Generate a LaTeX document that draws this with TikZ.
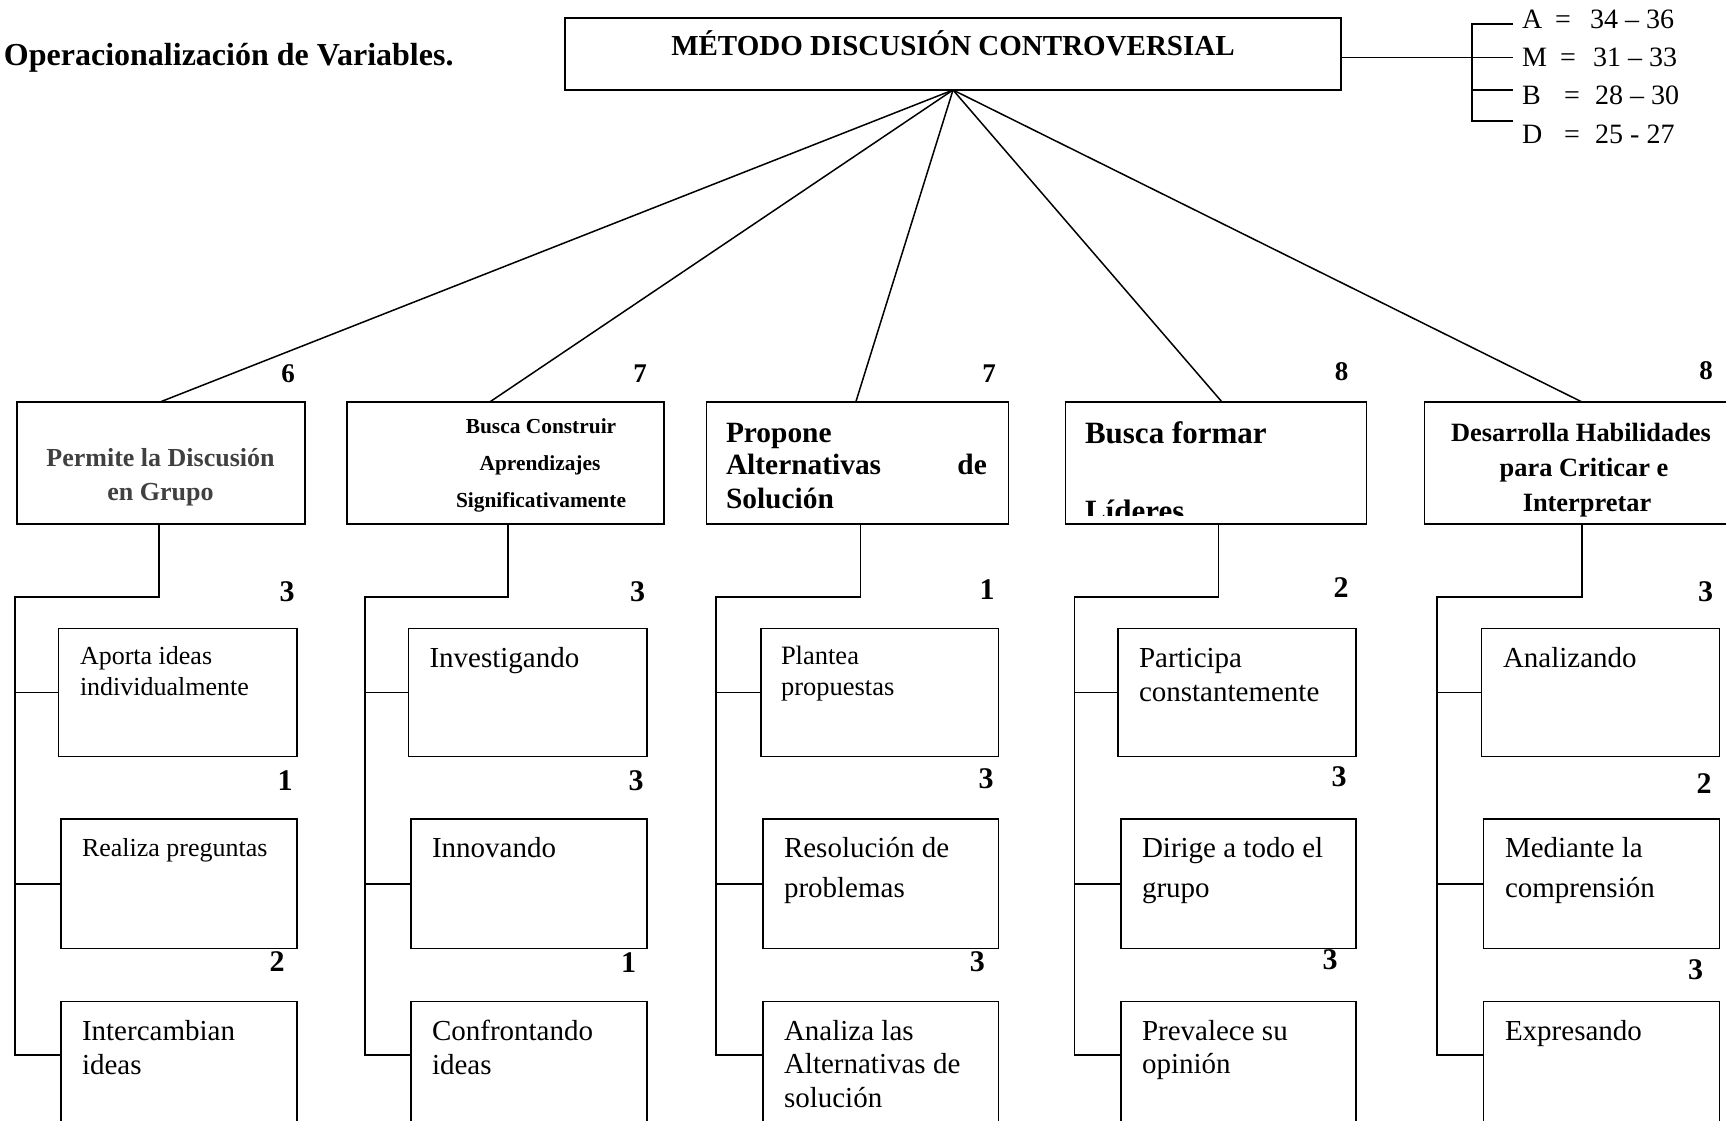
\documentclass[tikz,border=0pt]{standalone}
\usepackage{fontspec}
\setmainfont{Liberation Serif}
\newcommand\fsz[1]{\fontsize{#1}{#1}\selectfont}
\definecolor{grtxt}{HTML}{404040}
\begin{document}
\begin{tikzpicture}[x=1pt,y=-1pt,
  box/.style={draw, line width=1.6pt, rectangle, inner sep=0pt, outer sep=0pt},
  ln/.style={line width=1.5pt},
  tl/.style={inner sep=0pt, outer sep=0pt, anchor=base west},
  tc/.style={inner sep=0pt, outer sep=0pt, anchor=base},
  nA/.style={inner sep=0pt, font=\bfseries\fsz{27}},
  nB/.style={inner sep=0pt, font=\bfseries\fsz{30}},
  lab/.style={inner sep=0pt, font=\fsz{28}}]
\useasboundingbox (0,0) rectangle (1726,1120);

% title
\node[tl, font=\bfseries\fsz{32}] (title) at (4,65) {Operacionalización de Variables.};

% top box
\node[box, minimum width=776pt, minimum height=72pt] (top) at (953,54) {};
\node[tc, font=\bfseries\fsz{29}] (toptxt) at (953,55) {MÉTODO DISCUSIÓN CONTROVERSIAL};

% scale bracket
\coordinate (brm) at (1472,57.7);
\coordinate (bra) at (1472,24);
\coordinate (brd) at (1472,121);
\coordinate (tka) at (1513,24);
\coordinate (tkm) at (1513,57.7);
\coordinate (tkb) at (1513,90);
\coordinate (tkd) at (1513,121);
\draw[ln] (top.east |- brm) -- (brm);
\draw[ln] (tka) -- (bra) -- (brd) -- (tkd);
\draw[ln] (brm) -- (tkm);
\draw[ln] (bra |- tkb) -- (tkb);
\node[lab, anchor=base west] (lA) at (1522,28) {A};
\node[lab, anchor=base] (eA) at (1563,28) {=};
\node[lab, anchor=base west] (vA) at (1590,28) {34 – 36};
\node[lab, anchor=base west] (lM) at (1522,66) {M};
\node[lab, anchor=base] (eM) at (1568,66) {=};
\node[lab, anchor=base west] (vM) at (1593,66) {31 – 33};
\node[lab, anchor=base west] (lB) at (1522,104) {B};
\node[lab, anchor=base] (eB) at (1572,104) {=};
\node[lab, anchor=base west] (vB) at (1595,104) {28 – 30};
\node[lab, anchor=base west] (lD) at (1522,143) {D};
\node[lab, anchor=base] (eD) at (1572,143) {=};
\node[lab, anchor=base west] (vD) at (1595,143) {25 - 27};

% level 2 boxes
\node[box, minimum width=288pt, minimum height=122pt] (b1) at (161,463) {};
\node[box, minimum width=317pt, minimum height=122pt] (b2) at (505.5,463) {};
\node[box, minimum width=302pt, minimum height=122pt] (b3) at (857.5,463) {};
\node[box, minimum width=301pt, minimum height=122pt] (b4) at (1216,463) {};
\node[box, minimum width=315pt, minimum height=122pt] (b5) at (1582,463) {};

% fan connectors
\coordinate (f1) at (160,402);
\coordinate (f2) at (489.7,402);
\coordinate (f3) at (855.8,402);
\coordinate (f4) at (1222,402);
\coordinate (f5) at (1582,402);
\foreach \i in {1,...,5} \draw[ln] (top.south) -- (f\i);

% level 2 numbers
\node[nA, anchor=base] (m1) at (288,382) {6};
\node[nA, anchor=base] (m2) at (640,382) {7};
\node[nA, anchor=base] (m3) at (989,382) {7};
\node[nA, anchor=base] (m4) at (1341.5,380) {8};
\node[nA, anchor=base] (m5) at (1706,379) {8};

% level 2 texts
\node[tc, font=\bfseries\fsz{26}, text=grtxt] (t1a) at (160.5,466) {Permite la Discusión};
\node[tc, font=\bfseries\fsz{26}, text=grtxt] (t1b) at (160.5,500) {en Grupo};
\node[tc, font=\bfseries\fsz{21.4}] (t2a) at (541,433) {Busca Construir};
\node[tc, font=\bfseries\fsz{21.4}] (t2b) at (540,470) {Aprendizajes};
\node[tc, font=\bfseries\fsz{21.4}] (t2c) at (541,507) {Significativamente};
\node[tl, font=\bfseries\fsz{29.4}] (t3a) at (726,442) {Propone};
\node[tl, font=\bfseries\fsz{29.4}] (t3b) at (726,474) {Alternativas};
\node[inner sep=0pt, anchor=base east, font=\bfseries\fsz{29.4}] (t3c) at (987,474) {de};
\node[tl, font=\bfseries\fsz{29.4}] (t3d) at (726,508) {Solución};
\node[tl, font=\bfseries\fsz{31}] (t4a) at (1085,443) {Busca formar};
\begin{scope}
\clip (1070,480) rectangle (1360,515);
\node[tl, font=\bfseries\fsz{31}] (t4b) at (1085,521) {Líderes};
\end{scope}
\node[tc, font=\bfseries\fsz{26.4}] (t5a) at (1581,441) {Desarrolla Habilidades};
\node[tc, font=\bfseries\fsz{26.4}] (t5b) at (1584,476) {para Criticar e};
\node[tc, font=\bfseries\fsz{26.4}] (t5c) at (1587,511) {Interpretar};

% level 3 boxes
\node[box, minimum width=238.5pt, minimum height=128pt] (n1a) at (177.75,692.6) {};
\node[box, minimum width=236pt, minimum height=129.5pt] (n1b) at (179,883.75) {};
\node[box, minimum width=236pt, minimum height=129pt] (n1c) at (179,1066) {};
\node[box, minimum width=238.5pt, minimum height=128pt] (n2a) at (527.75,692.6) {};
\node[box, minimum width=236.3pt, minimum height=129.5pt] (n2b) at (528.85,883.75) {};
\node[box, minimum width=236.3pt, minimum height=129pt] (n2c) at (528.85,1066) {};
\node[box, minimum width=237.9pt, minimum height=128pt] (n3a) at (879.65,692.6) {};
\node[box, minimum width=235.9pt, minimum height=129.5pt] (n3b) at (880.65,883.75) {};
\node[box, minimum width=235.9pt, minimum height=129pt] (n3c) at (880.65,1066) {};
\node[box, minimum width=238pt, minimum height=128pt] (n4a) at (1237,692.6) {};
\node[box, minimum width=235.2pt, minimum height=129.5pt] (n4b) at (1238.4,883.75) {};
\node[box, minimum width=235.2pt, minimum height=129pt] (n4c) at (1238.4,1066) {};
\node[box, minimum width=237.9pt, minimum height=128pt] (n5a) at (1600.45,692.6) {};
\node[box, minimum width=235.9pt, minimum height=129.5pt] (n5b) at (1601.45,883.75) {};
\node[box, minimum width=235.9pt, minimum height=129pt] (n5c) at (1601.45,1066) {};

% level 2 -> level 3 connectors
\coordinate (v1) at (159,597);   \coordinate (h1) at (15,597);   \coordinate (e1) at (15,1055);
\coordinate (v2) at (508,597);   \coordinate (h2) at (365,597);  \coordinate (e2) at (365,1055);
\coordinate (v3) at (860.5,597); \coordinate (h3) at (716,597);  \coordinate (e3) at (716,1055);
\coordinate (v4) at (1218.6,597);\coordinate (h4) at (1074.5,597);\coordinate (e4) at (1074.5,1055);
\coordinate (v5) at (1582,597);  \coordinate (h5) at (1437,597); \coordinate (e5) at (1437,1055);
\foreach \i in {1,...,5} {
  \draw[ln] (b\i.south -| v\i) -- (v\i) -- (h\i) -- (e\i) -- (n\i c.west |- e\i);
  \draw[ln] (h\i |- n\i a.west) -- (n\i a.west);
  \draw[ln] (h\i |- n\i b.west) -- (n\i b.west);
}

% level 3 numbers
\node[nB] (k1a) at (287,592) {3};
\node[nB] (k1b) at (285,781) {1};
\node[nB] (k1c) at (277,962) {2};
\node[nB] (k2a) at (637.5,592) {3};
\node[nB] (k2b) at (636,781) {3};
\node[nB] (k2c) at (628.6,963) {1};
\node[nB] (k3a) at (987,590) {1};
\node[nB] (k3b) at (986,779) {3};
\node[nB] (k3c) at (977.4,962) {3};
\node[nB] (k4a) at (1341,588) {2};
\node[nB] (k4b) at (1339,777) {3};
\node[nB] (k4c) at (1330,960) {3};
\node[nB] (k5a) at (1705.5,592) {3};
\node[nB] (k5b) at (1704,784) {2};
\node[nB] (k5c) at (1695.6,970) {3};

% level 3 texts
\node[tl, font=\fsz{26}] (x1a1) at (80,664) {Aporta ideas};
\node[tl, font=\fsz{26}] (x1a2) at (80,695) {individualmente};
\node[tl, font=\fsz{26}] (x1b1) at (82,856) {Realiza preguntas};
\node[tl, font=\fsz{29}] (x1c1) at (82,1040.5) {Intercambian};
\node[tl, font=\fsz{29}] (x1c2) at (82,1074.5) {ideas};

\node[tl, font=\fsz{29}] (x2a1) at (429.5,667) {Investigando};
\node[tl, font=\fsz{29}] (x2b1) at (432,857.5) {Innovando};
\node[tl, font=\fsz{29}] (x2c1) at (432,1040.5) {Confrontando};
\node[tl, font=\fsz{29}] (x2c2) at (432,1074.5) {ideas};

\node[tl, font=\fsz{26.5}] (x3a1) at (781,664) {Plantea};
\node[tl, font=\fsz{26.5}] (x3a2) at (781,695) {propuestas};
\node[tl, font=\fsz{29}] (x3b1) at (784,857) {Resolución de};
\node[tl, font=\fsz{29}] (x3b2) at (784,897) {problemas};
\node[tl, font=\fsz{29}] (x3c1) at (784,1040) {Analiza las};
\node[tl, font=\fsz{29}] (x3c2) at (784,1073.5) {Alternativas de};
\node[tl, font=\fsz{29}] (x3c3) at (784,1107) {solución};

\node[tl, font=\fsz{29}] (x4a1) at (1139,667.5) {Participa};
\node[tl, font=\fsz{29}] (x4a2) at (1139,701) {constantemente};
\node[tl, font=\fsz{29}] (x4b1) at (1142,857) {Dirige a todo el};
\node[tl, font=\fsz{29}] (x4b2) at (1142,897) {grupo};
\node[tl, font=\fsz{29}] (x4c1) at (1142,1040) {Prevalece su};
\node[tl, font=\fsz{29}] (x4c2) at (1142,1073.5) {opinión};

\node[tl, font=\fsz{29}] (x5a1) at (1503,667) {Analizando};
\node[tl, font=\fsz{29}] (x5b1) at (1505,857) {Mediante la};
\node[tl, font=\fsz{29}] (x5b2) at (1505,897) {comprensión};
\node[tl, font=\fsz{29}] (x5c1) at (1505,1040) {Expresando};
\end{tikzpicture}
\end{document}
